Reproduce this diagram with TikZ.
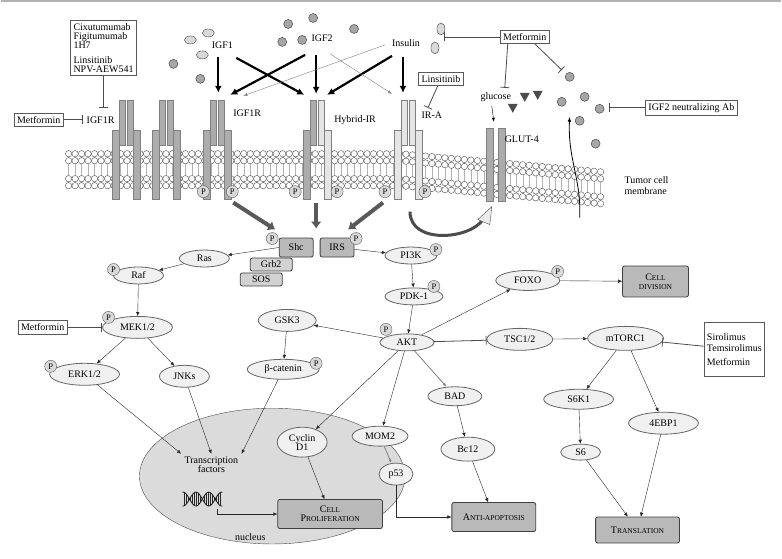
\documentclass[tikz,border=0pt]{standalone}
\usepackage{fontspec}
\setmainfont{Liberation Serif}
\usetikzlibrary{shapes.geometric,arrows.meta}
\newcommand{\rcp}[3]{%
 \draw[rc,fill=#2] (#1-14,130) rectangle (#1-7,200);
 \draw[rc,fill=#2] (#1-7,100) rectangle (#1-1,145);
 \draw[rc,fill=#3] (#1+1,100) rectangle (#1+7,145);
 \draw[rc,fill=#3] (#1+7,130) rectangle (#1+14,200);}
\newcommand{\sm}[2]{#1{\fontsize{7.5}{8}\selectfont #2}}
\begin{document}
\begin{tikzpicture}[x=1pt,y=-1pt,font=\fontsize{10}{11}\selectfont,
 el/.style={ellipse,draw=gray!80!black,fill=gray!12,thick,inner sep=1.5pt,minimum height=17pt},
 bx/.style={rectangle,rounded corners=2pt,draw=gray!50!black,fill=gray!55,thick,align=center,inner sep=3pt},
 wb/.style={rectangle,draw=gray!70!black,fill=white,thick,align=left,inner sep=3pt},
 pc/.style={circle,draw=gray!70!black,fill=gray!30,inner sep=0.8pt,minimum size=12pt,font=\fontsize{8.5}{8.5}\selectfont},
 arr/.style={draw=gray!30!black,-{Latex[length=4pt,width=3.5pt]}},
 inh/.style={draw=gray!60!black,thick,-{Bar[width=9pt]}},
 big/.style={line width=2.2pt,-{Latex[length=7pt,width=7pt]}},
 thin/.style={draw=gray,-{Latex[length=4pt]}},
 garr/.style={line width=4pt,gray!70!black,-{Latex[length=7pt,width=11pt]}},
 rc/.style={draw=gray!40!black,thin},
 lig/.style={draw=gray!40!black,fill=gray!70},
 ligl/.style={draw=gray!50!black,fill=gray!30}]
\fill[white] (0,0) rectangle (782,560);
\draw[gray!60,line width=1.5pt] (0,1) -- (782,1);
% membrane
\foreach \i in {0,...,82}{
 \pgfmathsetmacro{\xx}{68+6.5*\i}
 \pgfmathsetmacro{\dy}{max(0,(\xx-400)*0.09)}
 \draw[gray!60] (\xx,157+\dy) -- (\xx,183+\dy);
 \draw[gray!60!black,fill=white] (\xx,154+\dy) circle (3.2);
 \draw[gray!60!black,fill=white] (\xx,161+\dy) circle (3.2);
 \draw[gray!60!black,fill=white] (\xx,179+\dy) circle (3.2);
 \draw[gray!60!black,fill=white] (\xx,186+\dy) circle (3.2);
}
% receptors
\rcp{126}{gray!65}{gray!65}
\rcp{166}{gray!65}{gray!65}
\rcp{217}{gray!65}{gray!65}
\rcp{317}{gray!65}{gray!20}
\rcp{408}{gray!20}{gray!20}
\draw[rc,fill=gray!65] (486,128) rectangle (493,202);
\draw[rc,fill=gray!65] (498,128) rectangle (505,202);
\foreach \x in {203,232,295,337,385,425}{\node[pc] at (\x,192) {P};}
% ligands
\foreach \p in {(190,40),(208,33),(202,55)}{\draw[ligl] \p ellipse (6 and 4);}
\draw[ligl] (441,29) ellipse (4 and 6); \draw[ligl] (435,48) ellipse (4 and 6);
\foreach \p in {(173,64),(200,79),(288,24),(313,18),(282,42),(302,40),(354,29),(570,77),(562,102),(585,97),(600,109),(580,121),(596,144)}{\draw[lig] \p circle (4.5);}
\fill[gray!60!black] (520,93) -- (530,93) -- (525,102) -- cycle;
\fill[gray!60!black] (533,91) -- (543,91) -- (538,100) -- cycle;
\fill[gray!60!black] (508,104) -- (518,104) -- (513,113) -- cycle;
\node (igf1) at (222,45) {IGF1};
\node (igf2) at (322,38) {IGF2};
\node (ins) at (406,43) {Insulin};
\draw[big] (218,57) -- (218,93);
\draw[big] (236,58) -- (304,95);
\draw[big] (305,55) -- (230,95);
\draw[big] (316,55) -- (316,94);
\draw[big] (392,56) -- (327,95);
\draw[big] (403,57) -- (403,93);
\draw[thin] (385,45) -- (243,96);
\draw[thin] (330,54) -- (392,94);
\node at (247,113) {IGF1R};
\node at (355,120) {Hybrid-IR};
\node at (432,115) {IR-A};
\node at (496,97) {glucose};
\node at (522,140) {GLUT-4};
\node[align=left] at (647,186) {Tumor cell\\membrane};
% drug boxes
\node[wb] (d1) at (103,48) {Cixutumumab\\[-2pt]Figitumumab\\[-2pt]1H7\\[4pt]Linsitinib\\[-2pt]NPV-AEW541};
\node (igfr) at (100,120) {IGF1R};
\node[wb] (m1) at (38,120) {Metformin};
\draw[inh] (m1) -- (igfr);
\draw[inh] (d1) -- (103,108);
\node[wb] (m2) at (525,37) {Metformin};
\coordinate (ell) at (444,37);
\draw[inh] (m2) -- (ell);
\draw[inh] (m2.south west)++(8,0) -- (505,88);
\draw[inh] (m2.south east)++(-15,0) -- (562,70);
\node[wb] (lin) at (441,79) {Linsitinib};
\draw[inh] (lin) -- (428,108);
\node[wb] (ab) at (692,108) {IGF2 neutralizing Ab};
\draw[inh] (ab) -- (609,108);
\draw[-{Latex[length=4pt]}] (492,106) -- (494,122);
\draw[-{Latex[length=5pt]},thick] (580,218) .. controls (582,180) and (568,160) .. (570,117);
% thick gray arrows
\draw[garr] (233,203) -- (275,230);
\draw[garr] (316,203) -- (316,229);
\draw[garr] (383,203) -- (348,230);
\draw[gray!60!black,line width=3pt,fill=none] (410,212) .. controls (410,245) and (470,240) .. (483,220);
\draw[gray!60!black,fill=gray!15] (478,220) -- (492,207) -- (490,225) -- cycle;
% signaling nodes
\node[bx,minimum width=34pt,minimum height=19pt] (shc) at (296,248) {Shc};
\node[bx,minimum width=34pt,minimum height=19pt] (irs) at (337,248) {IRS};
\node[bx,fill=gray!35,minimum width=42pt,minimum height=13pt,inner sep=1pt] (grb) at (271,265) {Grb2};
\node[bx,fill=gray!35,minimum width=42pt,minimum height=13pt,inner sep=1pt] (sos) at (261,280) {SOS};
\node[pc] at (272,239) {P}; \node[pc] at (356,239) {P};
\node[el,minimum width=50pt] (ras) at (204,259) {Ras};
\node[el,minimum width=50pt] (raf) at (138,276) {Raf}; \node[pc] at (113,270) {P};
\node[el,minimum width=70pt,minimum height=22pt] (mek) at (137,328) {MEK1/2}; \node[pc] at (108,318) {P};
\node[wb] (m3) at (42,328) {Metformin};
\node[el,minimum width=70pt,minimum height=22pt] (erk) at (84,375) {ERK1/2}; \node[pc] at (50,367) {P};
\node[el,minimum width=50pt,minimum height=22pt] (jnk) at (184,377) {JNKs};
\node[el,minimum width=58pt,minimum height=22pt] (gsk) at (287,321) {GSK3};
\node[el,minimum width=72pt,minimum height=20pt] (bcat) at (283,370) {β-catenin}; \node[pc] at (316,364) {P};
\fill[gray!28,draw=gray!60!black] (272,477) ellipse (133 and 68);
\node[align=center] (tf) at (211,466) {Transcription\\[-2pt]factors};
\node at (250,538) {nucleus};
\begin{scope}[shift={(202,500)}]
\draw[gray!20!black,thick,domain=-20:20,samples=40] plot (\x,{7*sin(\x*14)});
\draw[gray!20!black,thick,domain=-20:20,samples=40] plot (\x,{-7*sin(\x*14)});
\foreach \t in {-18,-16,...,18}{\draw[gray!30!black] (\t,{7*sin(\t*14)}) -- (\t,{-7*sin(\t*14)});}
\end{scope}
\coordinate (dna) at (217,510);
\node[bx,minimum width=105pt,minimum height=29pt,font=\fontsize{10}{9}\selectfont] (cp) at (330,515) {\sm{C}{ELL}\\\sm{P}{ROLIFERATION}};
\node[el,align=center,minimum width=50pt,minimum height=30pt,inner sep=0pt] (cyc) at (302,443) {Cyclin\\[-2pt]D1};
\node[el,minimum width=56pt,minimum height=20pt] (mom) at (380,437) {MOM2};
\node[el,minimum width=34pt,minimum height=22pt] (p53) at (396,475) {p53};
\node[el,minimum width=54pt] (akt) at (407,343) {AKT}; \node[pc] at (386,330) {P};
\node[el,minimum width=52pt] (pi3k) at (411,256) {PI3K}; \node[pc] at (436,250) {P};
\node[el,minimum width=58pt] (pdk) at (414,297) {PDK-1}; \node[pc] at (434,287) {P};
\node[el,minimum width=64pt,minimum height=20pt] (foxo) at (528,281) {FOXO}; \node[pc] at (558,272) {P};
\node[bx,minimum width=66pt,minimum height=31pt,font=\fontsize{10}{9}\selectfont] (cd) at (656,282) {\sm{C}{ELL}\\\sm{}{DIVISION}};
\node[el,minimum width=66pt,minimum height=22pt] (tsc) at (520,340) {TSC1/2};
\node[el,minimum width=76pt,minimum height=24pt] (mtor) at (626,339) {mTORC1};
\node[wb,minimum height=54pt] (sir) at (735,350) {Sirolimus\\Temsirolimus\\[3pt]Metformin};
\node[el,minimum width=54pt,minimum height=19pt] (bad) at (455,397) {BAD};
\node[el,minimum width=54pt,minimum height=24pt] (bcl) at (468,450) {Bc12};
\node[bx,minimum width=84pt,minimum height=29pt] (anti) at (494,518) {\sm{A}{NTI-APOPTOSIS}};
\node[el,minimum width=70pt,minimum height=20pt] (s6k) at (579,400) {S6K1};
\node[el,minimum width=40pt,minimum height=16pt] (s6) at (581,453) {S6};
\node[el,minimum width=70pt,minimum height=22pt] (ebp) at (664,424) {4EBP1};
\node[bx,minimum width=84pt,minimum height=26pt] (tr) at (638,531) {\sm{T}{RANSLATION}};
% connectors
\draw[arr] (shc.west) -- (ras);
\draw[arr] (ras) -- (raf);
\draw[arr] (raf) -- (mek);
\draw[arr] (mek) -- (erk);
\draw[arr] (mek) -- (jnk);
\draw[inh] (m3) -- (mek);
\draw[arr] (erk) -- (tf.north west);
\draw[arr] (jnk) -- (tf.north);
\draw[arr] (bcat) -- (tf.north east);
\draw[arr] (gsk) -- (bcat);
\draw[arr] (akt) -- (gsk);
\draw[arr] (irs) -- (pi3k);
\draw[arr] (pi3k) -- (pdk);
\draw[arr] (pdk) -- (akt);
\draw[arr] (akt) -- (foxo);
\draw[arr] (foxo) -- (cd);
\draw[inh] (akt) -- (tsc);
\draw[arr] (tsc) -- (mtor);
\draw[inh] (sir) -- (mtor);
\draw[arr] (mtor) -- (s6k);
\draw[arr] (mtor) -- (ebp);
\draw[arr] (s6k) -- (s6);
\draw[arr] (s6) -- (tr);
\draw[arr] (ebp) -- (tr);
\draw[arr] (akt) -- (cyc);
\draw[arr] (akt) -- (mom);
\draw[inh,thin] (akt) -- (bad);
\draw[arr] (bad) -- (bcl);
\draw[arr] (bcl) -- (anti);
\draw[arr] (cyc) -- (cp);
\draw[arr] (dna) |- (cp.west);
\draw[inh,thin] (mom) -- (p53);
\draw[arr] (p53.south) |- (anti.west);
\end{tikzpicture}
\end{document}
